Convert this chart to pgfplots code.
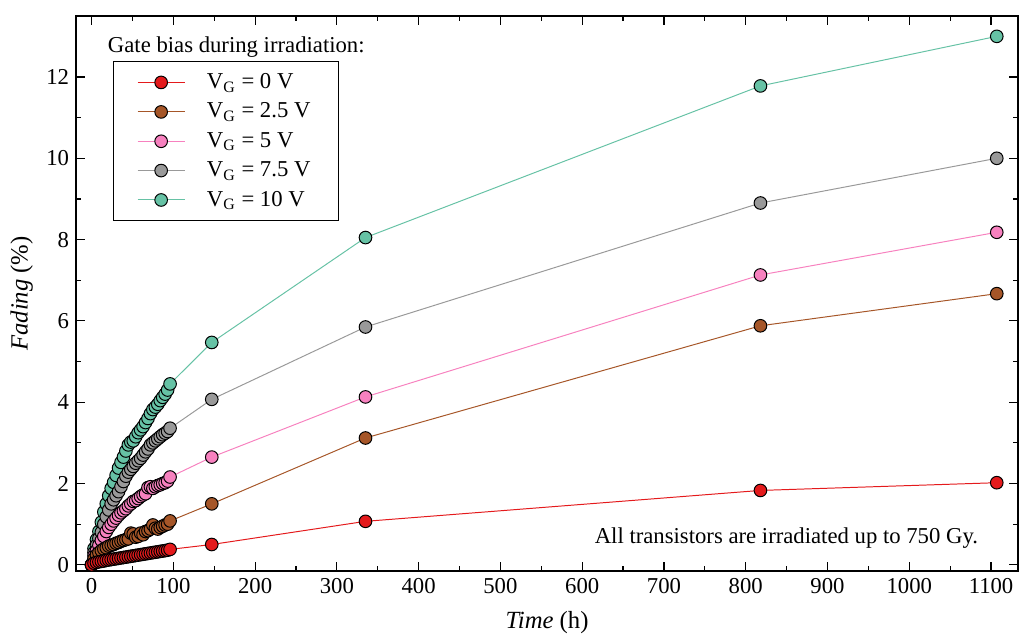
\documentclass[border=0pt]{standalone}
\usepackage{fontspec}
\setmainfont{Liberation Serif}
\usepackage{pgfplots}
\pgfplotsset{compat=1.18}
\definecolor{cred}{HTML}{E41A1C}
\definecolor{cbrown}{HTML}{A65628}
\definecolor{cpink}{HTML}{F781BF}
\definecolor{cgray}{HTML}{999999}
\definecolor{cgreen}{HTML}{66C2A5}
\begin{document}
\begin{tikzpicture}
\begin{axis}[
  scale only axis, width=477pt, height=281pt,
  xmin=-19, xmax=1133, ymin=-0.15, ymax=13.5,
  xtick={0,100,...,1100}, minor x tick num=1,
  ytick={0,2,...,12}, minor y tick num=1,
  tick align=inside, major tick length=4.5pt, minor tick length=2.5pt,
  tick style={black, line width=0.6pt},
  axis line style={line width=0.8pt},
  /pgf/number format/assume math mode=true,
  /pgf/number format/1000 sep={},
  ticklabel style={font=\fontsize{11.5}{13}\selectfont},
  label style={font=\fontsize{12.5}{14}\selectfont},
  xlabel style={at={([yshift=-26.3pt]rel axis cs:0.5,0)}, anchor=center},
  ylabel style={at={([xshift=-27.5pt]rel axis cs:0,0.5)}, anchor=center},
  xlabel={\textit{Time} (h)}, ylabel={\textit{Fading} (\%)},
  reverse legend,
  legend cell align=left,
  legend style={at={(rel axis cs:0.039,0.919)}, anchor=north west, draw=black, line width=0.6pt,
    font=\fontsize{11.5}{13}\selectfont, inner xsep=12pt, inner ysep=4pt, row sep=1.8pt, column sep=9pt,
    nodes={inner sep=2pt}},
  legend image code/.code={\draw[mark repeat=2,mark phase=2] plot coordinates {(0cm,0cm)(0.42cm,0cm)(0.84cm,0cm)};},
  clip=false,
]
\addplot[color=cgreen, line width=0.5pt, mark=*, mark size=3.2pt, mark options={fill=cgreen, draw=black, line width=0.5pt}] coordinates {
(0,0) (3,0.40) (6,0.62) (9,0.82) (12,1.05) (15,1.30) (18,1.50) (21,1.70) (24,1.88) (27,2.03) (30,2.20) (33,2.38) (36,2.52) (39,2.65) (42,2.80) (45,2.95) (48,3.02) (51,3.05) (54,3.15) (57,3.25) (60,3.32) (63,3.40) (66,3.50) (69,3.60) (72,3.72) (75,3.82) (78,3.88) (81,3.95) (84,4.04) (87,4.12) (90,4.20) (93,4.30) (96,4.45)
(147,5.47) (335,8.05) (818,11.78) (1107,13.0)};
\addlegendentry{V\textsubscript{G} = 10 V}
\addplot[color=cgray, line width=0.5pt, mark=*, mark size=3.2pt, mark options={fill=cgray, draw=black, line width=0.5pt}] coordinates {
(0,0) (3,0.30) (6,0.48) (9,0.65) (12,0.80) (15,1.00) (18,1.18) (21,1.35) (24,1.50) (27,1.60) (30,1.70) (33,1.80) (36,1.92) (39,2.05) (42,2.18) (45,2.28) (48,2.35) (51,2.42) (54,2.50) (57,2.56) (60,2.62) (63,2.70) (66,2.78) (69,2.85) (72,2.95) (75,3.00) (78,3.05) (81,3.10) (84,3.15) (87,3.20) (90,3.24) (93,3.28) (96,3.36)
(147,4.07) (335,5.85) (818,8.90) (1107,10.0)};
\addlegendentry{V\textsubscript{G} = 7.5 V}
\addplot[color=cpink, line width=0.5pt, mark=*, mark size=3.2pt, mark options={fill=cpink, draw=black, line width=0.5pt}] coordinates {
(0,0) (3,0.22) (6,0.35) (9,0.48) (12,0.60) (15,0.70) (18,0.82) (21,0.92) (24,1.00) (27,1.08) (30,1.15) (33,1.22) (36,1.28) (39,1.33) (42,1.38) (45,1.45) (48,1.50) (51,1.56) (54,1.58) (57,1.63) (60,1.68) (63,1.72) (66,1.75) (69,1.90) (72,1.92) (75,1.88) (78,1.92) (81,1.95) (84,1.97) (87,2.00) (90,2.02) (93,2.06) (96,2.16)
(147,2.65) (335,4.13) (818,7.13) (1107,8.18)};
\addlegendentry{V\textsubscript{G} = 5 V}
\addplot[color=cbrown, line width=0.5pt, mark=*, mark size=3.2pt, mark options={fill=cbrown, draw=black, line width=0.5pt}] coordinates {
(0,0) (3,0.15) (6,0.24) (9,0.30) (12,0.35) (15,0.39) (18,0.42) (21,0.46) (24,0.48) (27,0.50) (30,0.53) (33,0.55) (36,0.58) (39,0.60) (42,0.62) (45,0.64) (48,0.78) (51,0.76) (54,0.68) (57,0.70) (60,0.78) (63,0.74) (66,0.82) (69,0.84) (72,0.88) (75,0.98) (78,0.90) (81,0.88) (84,0.92) (87,0.95) (90,0.98) (93,1.00) (96,1.08)
(147,1.50) (335,3.12) (818,5.88) (1107,6.67)};
\addlegendentry{V\textsubscript{G} = 2.5 V}
\addplot[color=cred, line width=0.5pt, mark=*, mark size=3.2pt, mark options={fill=cred, draw=black, line width=0.5pt}] coordinates {
(0,0) (3,0.04) (6,0.06) (9,0.075) (12,0.085) (15,0.095) (18,0.11) (21,0.12) (24,0.13) (27,0.14) (30,0.15) (33,0.16) (36,0.17) (39,0.18) (42,0.19) (45,0.20) (48,0.21) (51,0.22) (54,0.23) (57,0.24) (60,0.25) (63,0.26) (66,0.27) (69,0.28) (72,0.29) (75,0.30) (78,0.31) (81,0.32) (84,0.33) (87,0.34) (90,0.35) (93,0.36) (96,0.38)
(147,0.50) (335,1.07) (818,1.83) (1107,2.02)};
\addlegendentry{V\textsubscript{G} = 0 V}
\node[anchor=west, font=\fontsize{11.5}{13}\selectfont] at (rel axis cs:0.0265,0.944) {Gate bias during irradiation:};
\node[anchor=east, font=\fontsize{11.5}{13}\selectfont] at (rel axis cs:0.965,0.06) {All transistors are irradiated up to 750 Gy.};
\end{axis}
\pgfresetboundingbox
\path ([shift={(-38.5pt,-32.9pt)}]current axis.south west) rectangle ([shift={(0.5pt,8.1pt)}]current axis.north east);
\end{tikzpicture}
\end{document}
